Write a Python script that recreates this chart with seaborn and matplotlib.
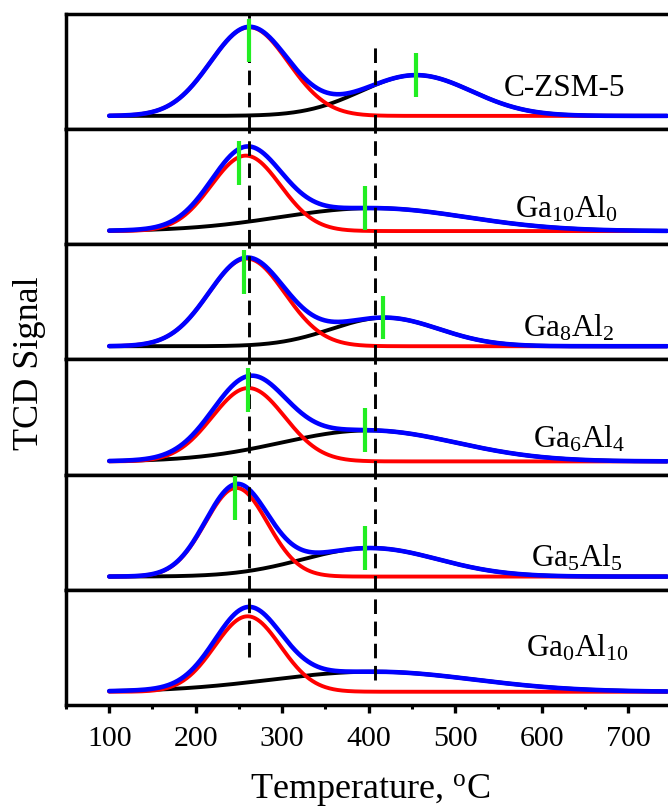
import numpy as np
import pandas as pd
import matplotlib
matplotlib.use("Agg")
import matplotlib.pyplot as plt
from matplotlib.ticker import MultipleLocator, FixedLocator
import seaborn as sns

# ---- data -------------------------------------------------------------
samples = ["C-ZSM-5", r"Ga$_{10}$Al$_{0}$", r"Ga$_{8}$Al$_{2}$",
           r"Ga$_{6}$Al$_{4}$", r"Ga$_{5}$Al$_{5}$", r"Ga$_{0}$Al$_{10}$"]

# Gaussian deconvolution of each NH3-TPD profile
# low-temperature (weak acid) component
low_center = [262, 258, 259, 261, 247, 260]
low_height = [0.87, 0.74, 0.86, 0.72, 0.87, 0.74]
low_width = [45, 40, 44, 42, 36, 38]
# high-temperature (strong acid) component
high_center = [455, 405, 419, 400, 402, 405]
high_height = [0.40, 0.225, 0.28, 0.304, 0.28, 0.197]
high_width = [64, 108, 62, 101, 78, 117]

# desorption maxima marked on the profiles (°C)
low_peak_marks = [262, 250, 256, 261, 246, None]
high_peak_marks = [455, 396, 416, 396, 396, None]

# reference temperatures (dashed guides)
ref_temps = [262, 407]

temp_ticks = [100, 200, 300, 400, 500, 600, 700]

# ---- style ------------------------------------------------------------
sns.set_theme(style="ticks")
plt.rcParams["font.family"] = ["Liberation Serif", "DejaVu Serif"]
plt.rcParams["mathtext.fontset"] = "custom"
plt.rcParams["mathtext.rm"] = "Liberation Serif"
plt.rcParams["mathtext.it"] = "Liberation Serif:italic"
plt.rcParams["mathtext.bf"] = "Liberation Serif:bold"
plt.rcParams["text.color"] = "black"
plt.rcParams["axes.labelcolor"] = "black"
plt.rcParams["xtick.color"] = "black"
plt.rcParams["xtick.labelcolor"] = "black"
plt.rcParams["axes.edgecolor"] = "black"

BLUE, RED, BLACK, GREEN = "#0000ff", "#ff0000", "#000000", "#22ee22"

fig = plt.figure(figsize=(6.68, 8.07), dpi=100)
axes = fig.subplots(6, 1, sharex=True, gridspec_kw=dict(hspace=0))
fig.subplots_adjust(left=0.0988, right=1.005, bottom=0.1264, top=0.9827)

T = np.linspace(100, 745, 700)
YLO, YHI = -0.13, 1.0
span = YHI - YLO

label_pos = [(627, 0.29), (629, 0.235), (632, 0.20),
             (644, 0.24), (641, 0.20), (642, 0.42)]
# vertical reach of the dashed guides in the first / last panel (axes fraction)
guide_top = [1.0, 0.71]
guide_bottom = [0.42, 0.217]


def gauss(x, c, h, w):
    return h * np.exp(-0.5 * ((x - c) / w) ** 2)


for i, ax in enumerate(axes):
    low = gauss(T, low_center[i], low_height[i], low_width[i])
    high = gauss(T, high_center[i], high_height[i], high_width[i])
    df = pd.DataFrame({"T": T, "low": low, "high": high, "total": low + high})

    sns.lineplot(data=df, x="T", y="high", ax=ax, color=BLACK, lw=2.8,
                 legend=False, zorder=2)
    sns.lineplot(data=df, x="T", y="low", ax=ax, color=RED, lw=2.8,
                 legend=False, zorder=3)
    sns.lineplot(data=df, x="T", y="total", ax=ax, color=BLUE, lw=3.3,
                 legend=False, zorder=4)

    # dashed guides
    for k, t in enumerate(ref_temps):
        ymax = guide_top[k] if i == 0 else 1.0
        ymin = guide_bottom[k] if i == len(axes) - 1 else 0.0
        ax.axvline(t, ymin=ymin, ymax=ymax, color=BLACK, lw=2.1,
                   ls=(0, (5, 2.6)), zorder=5)

    # peak maxima markers
    for t, shift in ((low_peak_marks[i], 0.12), (high_peak_marks[i], 0.0)):
        if t is None:
            continue
        yc = gauss(t, low_center[i], low_height[i], low_width[i]) + \
            gauss(t, high_center[i], high_height[i], high_width[i])
        yc -= shift * span
        half = 0.19 * span
        ax.plot([t, t], [yc - half, yc + half], color=GREEN, lw=3.0,
                solid_capstyle="butt", zorder=6)

    lx, ly = label_pos[i]
    ax.text(lx, ly, samples[i], transform=ax.get_xaxis_transform(),
            ha="center", va="baseline", fontsize=22.5, color="black")

    ax.set_ylim(YLO, YHI)
    ax.set_xlim(50, 750)
    ax.set_yticks([])
    ax.set_ylabel("")
    ax.set_xlabel("")
    for s in ax.spines.values():
        s.set_linewidth(2.5)
        s.set_color("black")
    if i < len(axes) - 1:
        ax.tick_params(axis="x", which="both", bottom=False, labelbottom=False)

bottom = axes[-1]
bottom.xaxis.set_major_locator(FixedLocator(temp_ticks))
bottom.xaxis.set_minor_locator(MultipleLocator(50))
bottom.tick_params(axis="x", which="major", direction="out", length=6,
                   width=2.4, labelsize=21.5, pad=9, color="black",
                   labelcolor="black")
bottom.tick_params(axis="x", which="minor", direction="out", length=3,
                   width=2.2, color="black")

fig.text(0.554, 1 - 798 / 807, r"Temperature, $^{\mathrm{o}}$C",
         ha="center", va="baseline", fontsize=26, color="black")
fig.text(30 / 668, 1 - 363 / 807, "TCD Signal", rotation=90,
         ha="center", va="center", fontsize=26, color="black")

fig.savefig("out.png", dpi=100)
